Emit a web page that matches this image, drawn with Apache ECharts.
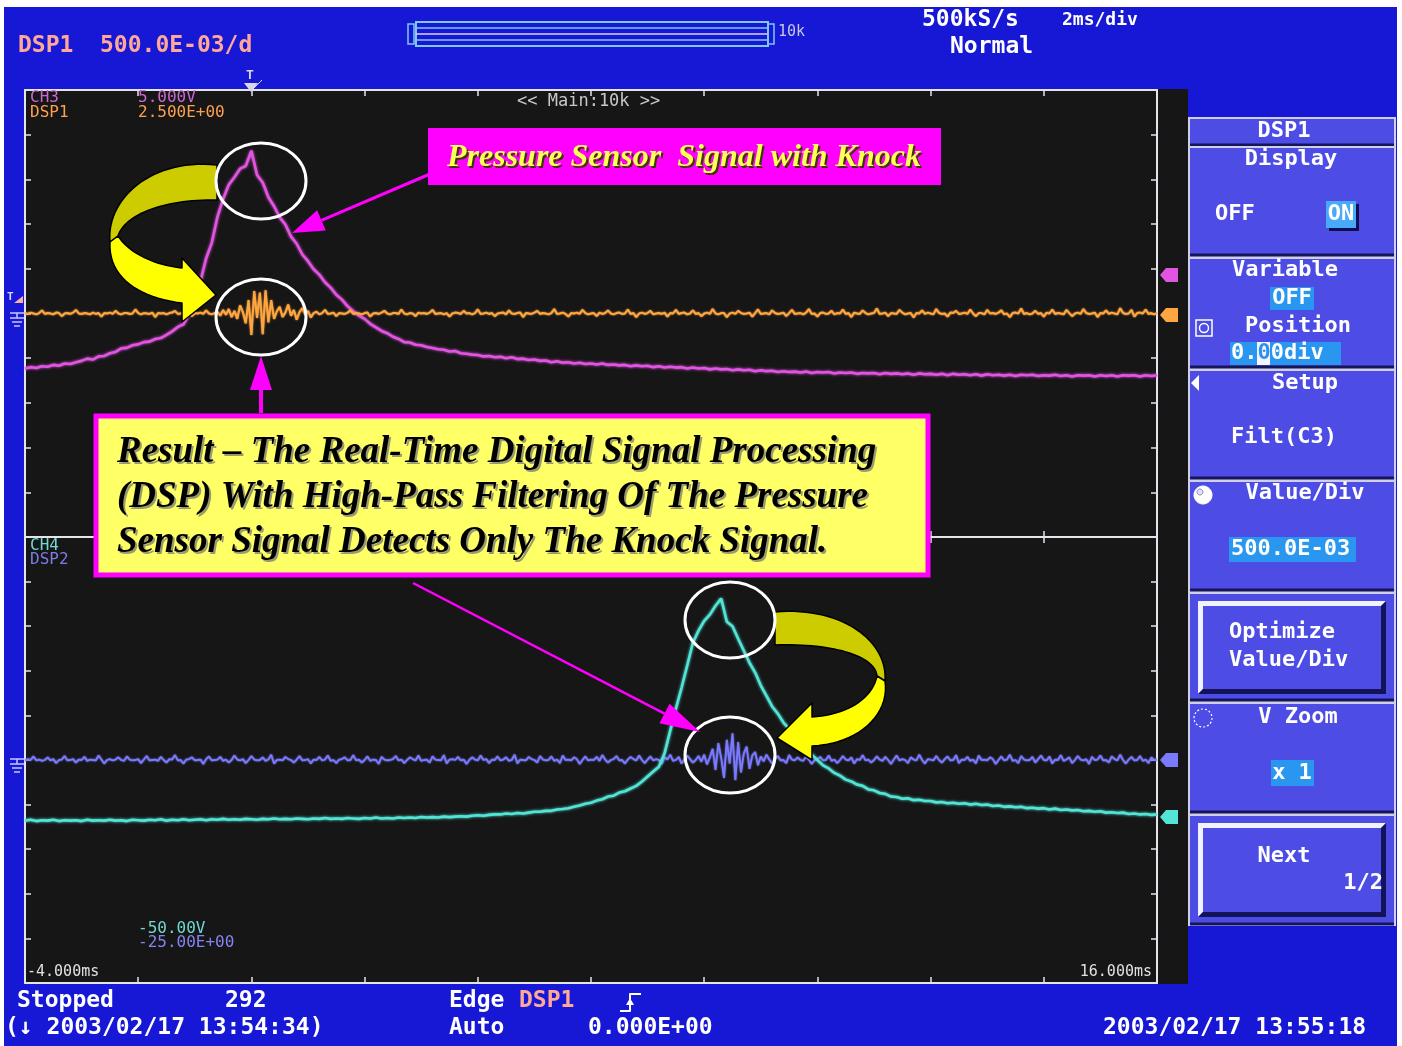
<!DOCTYPE html>
<html>
<head>
<meta charset="utf-8">
<title>DSP knock detection</title>
<script src="https://cdn.jsdelivr.net/npm/echarts@6/dist/echarts.min.js"></script>
<style>
  html, body { margin: 0; padding: 0; background: #ffffff; }
  #scope { width: 1402px; height: 1046px; }
</style>
</head>
<body>
<div id="scope"></div>
<script>
// ---- records (vertical unit: screen divisions, 0 = centre line of each window) ----
const T_START = -4;      // ms at the left edge of the screen
const T_END = 16;        // ms at the right edge
const DT_CH = 0.1;       // ms between points of CH3 / CH4
const DT_DSP = 0.05;     // ms between points of DSP1 / DSP2
const timeLabels = ['-4.000ms', '16.000ms'];

// CH3: cylinder pressure sensor (upper window)
const ch3 = [
-1.23,-1.20,-1.22,-1.18,-1.19,-1.15,-1.17,-1.12,-1.13,-1.09,
-1.06,-1.01,-1.03,-0.96,-0.95,-0.89,-0.86,-0.78,-0.77,-0.71,
-0.69,-0.64,-0.63,-0.57,-0.55,-0.48,-0.40,-0.30,-0.24,-0.02,
0.24,0.72,1.23,1.58,2.16,2.56,2.88,3.05,3.24,3.30,
3.64,3.10,2.93,2.60,2.40,2.15,1.99,1.72,1.56,1.32,
1.17,0.99,0.87,0.70,0.58,0.42,0.31,0.16,0.05,-0.05,
-0.12,-0.23,-0.31,-0.39,-0.44,-0.52,-0.57,-0.64,-0.65,-0.70,
-0.71,-0.75,-0.77,-0.80,-0.81,-0.85,-0.84,-0.89,-0.90,-0.92,
-0.93,-0.96,-0.95,-0.98,-0.97,-1.00,-0.98,-1.02,-1.01,-1.04,
-1.03,-1.06,-1.05,-1.09,-1.07,-1.10,-1.09,-1.12,-1.10,-1.13,
-1.12,-1.14,-1.12,-1.15,-1.14,-1.16,-1.15,-1.18,-1.16,-1.18,
-1.17,-1.20,-1.18,-1.21,-1.19,-1.21,-1.20,-1.23,-1.21,-1.23,
-1.22,-1.25,-1.23,-1.25,-1.24,-1.27,-1.25,-1.27,-1.26,-1.29,
-1.27,-1.29,-1.28,-1.31,-1.29,-1.31,-1.30,-1.32,-1.30,-1.33,
-1.31,-1.32,-1.31,-1.34,-1.32,-1.33,-1.32,-1.35,-1.33,-1.34,
-1.33,-1.36,-1.33,-1.35,-1.34,-1.36,-1.34,-1.37,-1.34,-1.36,
-1.35,-1.37,-1.35,-1.38,-1.35,-1.37,-1.36,-1.38,-1.36,-1.39,
-1.36,-1.38,-1.37,-1.39,-1.37,-1.40,-1.37,-1.38,-1.37,-1.40,
-1.38,-1.39,-1.37,-1.40,-1.38,-1.41,-1.38,-1.39,-1.38,-1.41,
-1.38,-1.40,-1.38,-1.41,-1.38,-1.39,-1.38,-1.41,-1.38,-1.40,
-1.38
];

// DSP1: high-pass filtered CH3 (upper window)
const dsp1 = [
0.01,-0.01,0.02,0.00,-0.02,0.01,0.07,-0.01,0.01,0.00,-0.02,0.02,0.01,-0.06,0.00,0.01,-0.01,0.02,0.08,0.00,
-0.01,0.01,0.00,-0.02,0.02,-0.01,0.01,-0.07,0.01,0.00,0.02,-0.01,0.06,0.00,-0.02,0.01,0.01,-0.01,0.00,0.09,
0.01,-0.02,0.01,0.00,-0.01,0.02,-0.08,0.01,0.00,0.01,-0.02,0.01,0.02,0.06,-0.01,0.00,0.01,-0.02,0.01,-0.06,
0.01,0.00,0.02,-0.01,0.07,0.00,-0.02,0.01,0.04,-0.05,0.08,-0.03,0.10,-0.08,0.06,-0.12,0.18,0.03,-0.22,0.30,
-0.48,0.50,-0.10,0.47,-0.46,0.52,-0.20,0.30,-0.12,0.05,0.15,-0.08,0.02,0.20,-0.05,0.08,-0.14,0.03,0.12,-0.02,
0.06,-0.09,0.01,0.04,-0.02,0.01,0.08,-0.01,0.00,0.02,-0.06,0.01,0.00,-0.01,0.02,0.07,-0.01,0.01,0.00,-0.02,
0.01,0.02,-0.07,0.00,0.01,-0.01,0.02,0.06,0.00,-0.02,0.01,0.01,-0.01,0.09,0.00,-0.02,0.01,0.00,-0.06,0.02,
0.00,0.01,-0.01,0.02,0.08,-0.01,0.00,0.01,-0.02,0.01,-0.07,0.00,0.02,0.01,-0.01,0.06,0.00,0.01,-0.02,0.01,
0.09,-0.01,0.00,0.02,-0.01,0.01,-0.06,0.00,0.01,0.02,-0.02,0.07,0.00,-0.01,0.01,0.02,-0.08,0.01,0.00,-0.01,
0.02,0.06,-0.01,0.01,0.00,-0.02,0.01,0.10,-0.01,0.00,0.02,-0.01,-0.07,0.01,0.00,0.02,-0.01,0.08,0.01,-0.02,
0.00,0.01,-0.06,0.02,-0.01,0.01,0.07,0.00,-0.02,0.01,0.02,-0.01,0.00,0.09,-0.01,0.01,-0.08,0.00,0.02,-0.01,
0.01,0.06,-0.02,0.00,0.01,-0.01,0.02,-0.07,0.01,0.00,0.08,-0.01,0.01,0.02,-0.02,0.00,0.07,-0.01,0.01,-0.06,
0.00,0.02,-0.01,0.10,0.00,-0.02,0.01,0.01,-0.08,0.00,0.02,-0.01,0.06,0.01,-0.01,0.00,0.02,-0.07,0.01,0.09,
-0.01,0.00,0.01,-0.02,0.07,0.01,-0.01,0.00,0.02,-0.06,0.01,0.08,-0.01,0.00,0.01,-0.02,0.02,0.10,-0.01,0.00,
-0.07,0.01,0.02,-0.01,0.00,0.06,-0.02,0.01,0.00,0.09,-0.01,0.01,-0.08,0.02,0.00,-0.01,0.07,0.01,-0.02,0.00,
0.01,0.11,-0.01,0.00,0.02,-0.06,0.01,0.00,-0.01,0.08,0.02,-0.02,0.00,0.01,-0.09,0.01,0.00,0.07,-0.01,0.02,
0.00,-0.02,0.10,0.01,-0.01,0.00,-0.07,0.02,0.01,0.06,-0.01,0.00,0.02,-0.01,0.09,0.00,-0.06,0.01,0.01,-0.02,
0.08,0.00,0.01,-0.01,0.02,0.07,-0.02,0.00,-0.08,0.01,0.02,0.00,0.11,-0.01,0.01,-0.02,0.00,0.06,-0.01,0.01,
-0.07,0.02,0.00,0.09,-0.01,0.01,0.00,-0.02,0.08,0.01,-0.06,0.00,0.02,-0.01,0.10,0.01,-0.01,0.00,0.02,-0.08,
0.01,0.00,0.07,-0.01,0.02,0.00,-0.02,0.12,0.01,-0.01,0.00,0.08,-0.07,0.01,0.02,0.00,0.09,-0.01,0.01,-0.02,
0.01
];

// CH4: pressure sensor (lower window)
const ch4 = [
-1.36,-1.34,-1.37,-1.35,-1.36,-1.34,-1.37,-1.35,-1.36,-1.35,
-1.37,-1.34,-1.36,-1.35,-1.36,-1.34,-1.36,-1.35,-1.37,-1.34,
-1.35,-1.36,-1.34,-1.35,-1.33,-1.36,-1.34,-1.35,-1.33,-1.35,
-1.34,-1.33,-1.35,-1.33,-1.34,-1.32,-1.34,-1.33,-1.34,-1.32,
-1.33,-1.34,-1.32,-1.33,-1.31,-1.33,-1.32,-1.33,-1.31,-1.32,
-1.33,-1.31,-1.32,-1.30,-1.32,-1.31,-1.32,-1.30,-1.31,-1.32,
-1.30,-1.31,-1.29,-1.31,-1.30,-1.31,-1.29,-1.30,-1.29,-1.30,
-1.28,-1.29,-1.28,-1.29,-1.27,-1.28,-1.27,-1.26,-1.27,-1.25,
-1.24,-1.25,-1.23,-1.22,-1.22,-1.20,-1.21,-1.19,-1.20,-1.18,
-1.16,-1.16,-1.14,-1.14,-1.11,-1.10,-1.08,-1.05,-1.02,-0.98,
-0.96,-0.91,-0.88,-0.82,-0.80,-0.73,-0.70,-0.64,-0.58,-0.48,
-0.37,-0.26,-0.15,0.15,0.66,1.15,1.62,2.12,2.63,2.90,
3.12,3.26,3.46,3.62,3.10,3.00,2.72,2.45,2.18,1.96,
1.67,1.44,1.20,1.04,0.84,0.70,0.50,0.38,0.24,0.12,
0.00,-0.12,-0.19,-0.29,-0.35,-0.44,-0.48,-0.55,-0.58,-0.66,
-0.68,-0.74,-0.76,-0.82,-0.83,-0.87,-0.86,-0.90,-0.89,-0.92,
-0.92,-0.95,-0.94,-0.97,-0.96,-0.98,-0.97,-1.00,-0.98,-1.01,
-1.00,-1.03,-1.02,-1.05,-1.04,-1.06,-1.05,-1.08,-1.07,-1.09,
-1.08,-1.11,-1.09,-1.12,-1.11,-1.13,-1.12,-1.15,-1.14,-1.16,
-1.15,-1.18,-1.17,-1.19,-1.18,-1.21,-1.20,-1.22,-1.21,-1.23,
-1.22
];

// DSP2: high-pass filtered CH4 (lower window)
const dsp2 = [
-0.01,0.02,0.00,0.08,-0.01,0.01,-0.02,0.00,0.06,-0.01,0.02,-0.07,0.00,0.01,0.09,-0.01,0.00,0.02,-0.06,0.01,
0.00,0.07,-0.02,0.01,0.00,-0.01,0.10,0.01,-0.08,0.00,0.02,-0.01,0.01,0.06,0.00,-0.02,0.08,0.01,-0.01,0.00,
0.02,-0.07,0.01,0.09,-0.01,0.00,0.01,-0.02,0.07,0.00,-0.06,0.02,0.01,0.11,-0.01,0.00,-0.08,0.01,0.02,0.06,
-0.01,0.00,0.01,-0.09,0.02,0.08,-0.01,0.00,0.01,0.07,-0.02,0.01,-0.06,0.00,0.10,0.01,-0.01,0.02,-0.07,0.00,
0.09,0.01,-0.01,0.00,0.06,-0.02,0.01,0.12,-0.08,0.00,0.01,-0.01,0.07,0.02,0.00,-0.06,0.01,0.09,-0.01,0.00,
0.02,-0.08,0.01,0.00,0.07,-0.01,0.01,0.10,-0.02,0.00,-0.07,0.01,0.02,0.06,-0.01,0.00,0.11,-0.01,0.01,-0.06,
0.00,0.08,-0.02,0.01,0.00,-0.09,0.07,0.01,-0.01,0.00,0.02,0.09,-0.01,0.01,-0.07,0.00,0.06,0.02,-0.01,0.10,
-0.02,0.00,0.01,-0.06,0.08,0.01,0.00,-0.01,0.11,-0.08,0.01,0.02,0.00,0.07,-0.01,0.01,-0.09,0.00,0.06,0.01,
-0.01,0.10,0.00,0.02,-0.07,0.01,0.00,0.08,-0.01,0.01,0.06,-0.02,0.00,0.12,-0.08,0.01,0.00,-0.01,0.07,0.02,
0.00,-0.06,0.09,0.01,-0.01,0.00,0.08,-0.02,0.01,-0.07,0.10,0.00,0.01,-0.01,0.06,0.02,-0.09,0.00,0.08,-0.01,
0.01,0.00,0.07,-0.02,0.11,0.01,-0.06,0.00,0.02,0.09,-0.01,0.00,-0.08,0.01,0.07,0.02,-0.01,0.10,0.00,-0.07,
0.01,0.08,-0.01,0.02,0.00,-0.09,0.06,0.01,0.12,-0.02,0.00,0.07,-0.08,0.01,0.10,0.02,-0.06,0.00,0.09,-0.04,
0.12,-0.10,0.06,0.25,-0.22,0.38,0.05,-0.40,0.45,-0.08,0.60,-0.45,0.40,-0.28,0.15,0.30,-0.20,0.10,0.18,-0.12,
0.08,-0.03,0.12,0.01,-0.08,0.02,0.09,-0.01,0.00,-0.07,0.11,0.01,-0.01,0.06,0.00,-0.02,0.08,0.01,-0.09,0.00,
0.02,0.07,-0.01,0.00,0.10,-0.02,0.01,-0.07,0.00,0.09,0.01,-0.01,0.06,-0.08,0.02,0.00,0.11,-0.01,0.01,-0.06,
0.00,0.08,0.01,-0.02,0.07,0.00,-0.09,0.01,0.10,-0.01,0.02,0.00,-0.07,0.06,0.01,-0.01,0.12,0.00,-0.08,0.02,
0.01,-0.01,0.09,0.00,-0.06,0.02,0.08,-0.01,0.00,0.11,-0.07,0.01,0.00,0.07,-0.02,0.01,-0.08,0.10,0.00,0.01,
-0.01,0.06,0.02,-0.09,0.00,0.08,-0.01,0.01,0.12,-0.02,0.00,-0.07,0.09,0.01,-0.01,0.00,0.07,-0.06,0.02,0.10,
0.00,-0.01,0.08,-0.08,0.01,0.00,0.11,-0.02,0.01,0.06,-0.07,0.00,0.09,0.01,-0.01,0.02,-0.09,0.07,0.00,0.01,
0.10,-0.01,0.00,-0.06,0.08,0.02,-0.01,0.12,0.00,-0.08,0.01,0.07,-0.01,0.00,0.09,-0.02,0.01,-0.07,0.06,0.00,
0.01
];

// sample index -> [time in ms, value]
const toXY = (arr, dt) => arr.map((v, i) => [+(T_START + i * dt).toFixed(3), v]);

// ---- look ----
const BLUE = '#1717d6';
const PANEL = '#4d4de6';
const HILITE = '#2996f0';
const SCREEN = '#161616';
const FRAME = '#e4e4ec';
const MONO = '"DejaVu Sans Mono", "Liberation Mono", monospace';
const SERIF = '"Liberation Serif", "DejaVu Serif", serif';
const C_CH3 = '#e254e2', C_DSP1 = '#ffa640', C_CH4 = '#52e4d6', C_DSP2 = '#7a7aff';

const el = [];
function style(o) { const s = {}; for (const k in o) if (o[k] !== undefined) s[k] = o[k]; return s; }
function R(x, y, w, h, fill, o) {
  o = o || {};
  el.push({ type: 'rect', silent: true, z: o.z != null ? o.z : 50, shape: { x: x, y: y, width: w, height: h },
    style: style({ fill: fill || 'none', stroke: o.stroke, lineWidth: o.lw }) });
}
function L(pts, color, w, o) {
  o = o || {};
  el.push({ type: 'polyline', silent: true, z: o.z != null ? o.z : 50, shape: { points: pts },
    style: style({ stroke: color, lineWidth: w || 1, fill: 'none', lineDash: o.dash, lineJoin: 'round' }) });
}
function P(pts, fill, o) {
  o = o || {};
  el.push({ type: 'polygon', silent: true, z: o.z != null ? o.z : 50, shape: { points: pts },
    style: style({ fill: fill, stroke: o.stroke, lineWidth: o.lw, lineJoin: 'round' }) });
}
function E(cx, cy, rx, ry, color, w, o) {
  o = o || {};
  el.push({ type: 'ellipse', silent: true, z: o.z != null ? o.z : 60, shape: { cx: cx, cy: cy, rx: rx, ry: ry },
    style: style({ fill: o.fill || 'none', stroke: color, lineWidth: w, lineDash: o.dash }) });
}
function TX(x, y, s, color, size, o) {
  o = o || {};
  const al = o.align || 'left';
  el.push({ type: 'text', silent: true, z: o.z != null ? o.z : 60, x: x, y: y,
    style: { text: s, fill: color, font: (o.weight || 'bold') + ' ' + size + 'px ' + (o.family || MONO),
      textAlign: al, align: al, textVerticalAlign: 'middle', verticalAlign: 'middle' } });
}
function bez(p0, p1, p2, p3, n) {
  const pts = [];
  for (let k = 0; k <= n; k++) {
    const u = k / n, a = (1 - u) ** 3, b = 3 * u * (1 - u) ** 2, c = 3 * u * u * (1 - u), d = u ** 3;
    pts.push([a * p0[0] + b * p1[0] + c * p2[0] + d * p3[0], a * p0[1] + b * p1[1] + c * p2[1] + d * p3[1]]);
  }
  return pts;
}
function arrow(tail, tip, color, w, hl, hw) {
  const dx = tail[0] - tip[0], dy = tail[1] - tip[1], d = Math.hypot(dx, dy), ux = dx / d, uy = dy / d;
  const bx = tip[0] + ux * hl, by = tip[1] + uy * hl;
  L([tail, [bx, by]], color, w, { z: 70 });
  P([tip, [bx - uy * hw, by + ux * hw], [bx + uy * hw, by - ux * hw]], color, { z: 70 });
}

// ---- screen furniture ----
// black strip holding the channel markers, right of the graticule
R(1157, 89, 31, 895, SCREEN, { z: 0 });
// channel position markers
function marker(y, color) { P([[1160, y], [1166, y - 7], [1178, y - 7], [1178, y + 7], [1166, y + 7]], color, { z: 40 }); }
marker(275, C_CH3); marker(315, C_DSP1); marker(760, C_DSP2); marker(817, C_CH4);
// ground / trigger symbols left of the graticule
function ground(y) {
  L([[10, y], [24, y]], '#c8c8ff', 1.5, { z: 40 });
  L([[17, y], [17, y + 5]], '#c8c8ff', 1.5, { z: 40 });
  L([[10, y + 5], [24, y + 5]], '#c8c8ff', 1.5, { z: 40 });
  L([[12, y + 9], [22, y + 9]], '#c8c8ff', 1.5, { z: 40 });
  L([[14, y + 13], [20, y + 13]], '#c8c8ff', 1.5, { z: 40 });
}
ground(313); ground(759);
TX(7, 297, 'T', '#d8d8ff', 11, { z: 40 });
P([[14, 303], [23, 303], [23, 296]], '#ffb0a0', { z: 40 });
// trigger position mark above the graticule
TX(246, 76, 'T', '#d8d8e8', 13, { z: 40 });
P([[244, 83], [258, 83], [251, 92]], '#d8d8e8', { z: 40 });
L([[252, 90], [262, 80]], '#d8d8e8', 1, { z: 40 });

// ---- header ----
TX(18, 46, 'DSP1', '#ffa898', 23);
TX(100, 46, '500.0E-03/d', '#ffa898', 23);
R(408, 24, 6, 20, 'none', { stroke: '#80c8f0', lw: 1.5 });
R(416, 22, 352, 24, 'none', { stroke: '#80c8f0', lw: 2 });
L([[416, 28], [768, 28]], '#80c8f0', 1.5);
L([[416, 34], [768, 34]], '#dcd4ff', 1.5);
L([[416, 40], [768, 40]], '#80c8f0', 1.5);
R(768, 24, 6, 20, 'none', { stroke: '#80c8f0', lw: 1.5 });
TX(778, 32, '10k', '#c8c8e0', 15, { weight: 'normal' });
TX(922, 20, '500kS/s', '#ffffff', 23);
TX(1062, 20, '2ms/div', '#ffffff', 18);
TX(950, 47, 'Normal', '#ffffff', 23);

// ---- graticule captions ----
TX(30, 98, 'CH3', '#c868d0', 16, { weight: 'normal' });
TX(30, 113, 'DSP1', '#ffa050', 16, { weight: 'normal' });
TX(138, 98, '5.000V', '#c868d0', 16, { weight: 'normal' });
TX(138, 113, '2.500E+00', '#ffa050', 16, { weight: 'normal' });
TX(517, 102, '<< Main:10k >>', '#c8c8c8', 17, { weight: 'normal' });
TX(30, 546, 'CH4', '#70d8d0', 16, { weight: 'normal' });
TX(30, 560, 'DSP2', '#7c7ce8', 16, { weight: 'normal' });
TX(138, 929, '-50.00V', '#70d8d0', 16, { weight: 'normal' });
TX(138, 943, '-25.00E+00', '#8484f4', 16, { weight: 'normal' });
TX(27, 972, timeLabels[0], '#e0e0e0', 15, { weight: 'normal' });
TX(1152, 972, timeLabels[1], '#e0e0e0', 15, { weight: 'normal', align: 'right' });

// ---- status line ----
TX(17, 1001, 'Stopped', '#ffffff', 23);
TX(225, 1001, '292', '#ffffff', 23);
TX(5, 1028, '(\u2193 2003/02/17 13:54:34)', '#ffffff', 23);
TX(449, 1001, 'Edge', '#ffffff', 23);
TX(519, 1001, 'DSP1', '#ffa898', 23);
L([[620, 1011], [630, 1011], [630, 994], [641, 994]], '#ffffff', 2);
P([[626, 1005], [634, 1005], [630, 998]], '#ffffff');
TX(449, 1028, 'Auto', '#ffffff', 23);
TX(588, 1028, '0.000E+00', '#ffffff', 23);
TX(1103, 1028, '2003/02/17 13:55:18', '#ffffff', 23);

// ---- soft-key menu ----
function key(y, h) {
  R(1189, y, 206, h, PANEL, { stroke: '#cfcfea', lw: 2 });
  L([[1190, y + h - 1], [1394, y + h - 1]], '#15155a', 3);
}
function button(y, h) {
  R(1198, y, 188, h, PANEL);
  P([[1198, y], [1386, y], [1381, y + 5], [1203, y + 5], [1203, y + h - 5], [1198, y + h]], '#f2f2ff');
  P([[1386, y], [1386, y + h], [1198, y + h], [1203, y + h - 5], [1381, y + h - 5], [1381, y + 5]], '#13135a');
}
key(118, 28); key(147, 109); key(258, 110); key(370, 109); key(481, 110);
key(593, 108); button(601, 93);
key(703, 110);
key(815, 110); button(823, 94);

TX(1284, 131, 'DSP1', '#ffffff', 22, { align: 'center' });
TX(1291, 159, 'Display', '#ffffff', 22, { align: 'center' });
TX(1215, 214, 'OFF', '#ffffff', 22);
R(1329, 204, 30, 27, '#101050');
R(1326, 201, 30, 27, '#48aaf8');
TX(1341, 214, 'ON', '#ffffff', 22, { align: 'center' });

TX(1285, 270, 'Variable', '#ffffff', 22, { align: 'center' });
R(1270, 287, 44, 23, HILITE);
TX(1292, 298, 'OFF', '#ffffff', 22, { align: 'center' });
R(1196, 320, 16, 16, 'none', { stroke: '#ffffff', lw: 1.5 });
E(1204, 328, 4.5, 4.5, '#ffffff', 1.5);
TX(1298, 326, 'Position', '#ffffff', 22, { align: 'center' });
R(1230, 342, 111, 23, HILITE);
R(1257, 342, 13, 23, '#f4f4ff');
TX(1231, 353, '0.00div', '#ffffff', 22);
TX(1257.5, 353, '0', '#3090f0', 22);

P([[1191, 383], [1199, 375], [1199, 391]], '#ffffff');
TX(1305, 383, 'Setup', '#ffffff', 22, { align: 'center' });
TX(1284, 437, 'Filt(C3)', '#ffffff', 22, { align: 'center' });

E(1203, 495, 9, 9, '#ffffff', 1, { fill: '#ffffff' });
E(1200, 492, 3, 3, '#9090c0', 1, { fill: '#e0e0ff' });
TX(1305, 493, 'Value/Div', '#ffffff', 22, { align: 'center' });
R(1229, 537, 127, 25, HILITE);
TX(1231, 549, '500.0E-03', '#ffffff', 22);

TX(1229, 632, 'Optimize', '#ffffff', 22);
TX(1229, 660, 'Value/Div', '#ffffff', 22);

E(1203, 718, 9, 9, '#ffffff', 1.2, { dash: [2, 2] });
TX(1298, 717, 'V Zoom', '#ffffff', 22, { align: 'center' });
R(1271, 760, 43, 26, HILITE);
TX(1292, 773, 'x 1', '#ffffff', 22, { align: 'center' });

TX(1284, 856, 'Next', '#ffffff', 22, { align: 'center' });
TX(1383, 883, '1/2', '#ffffff', 22, { align: 'right' });

// ---- annotation: curved arrows from the pressure peak to the filtered burst ----
const OLIVE = '#cccc00', YEL = '#ffff00';
P(bez([217, 165], [150, 158], [106, 200], [110, 242], 30).concat(
  bez([118, 236], [125, 214], [165, 199], [217, 200], 30)), OLIVE, { stroke: '#000', lw: 1.5, z: 55 });
P(bez([118, 236], [130, 254], [155, 265], [182, 268], 20).concat(
  [[182, 258], [216, 295], [182, 322], [182, 303]],
  bez([182, 303], [140, 298], [108, 278], [110, 242], 20)), YEL, { stroke: '#000', lw: 1.5, z: 55 });

P(bez([775, 612], [840, 606], [888, 640], [885, 681], 30).concat(
  bez([877, 676], [875, 655], [830, 643], [775, 645], 30)), OLIVE, { stroke: '#000', lw: 1.5, z: 55 });
P(bez([877, 676], [872, 700], [845, 715], [812, 717], 20).concat(
  [[812, 703], [777, 738], [812, 760], [812, 746]],
  bez([812, 746], [858, 744], [890, 715], [885, 681], 20)), YEL, { stroke: '#000', lw: 1.5, z: 55 });

// circles around peaks and bursts
E(261, 181, 45, 38, '#ffffff', 3);
E(261, 317, 45, 38, '#ffffff', 3);
E(730, 620, 45, 38, '#ffffff', 3);
E(730, 755, 45, 38, '#ffffff', 3);

// magenta pointers
arrow([430, 174], [292, 233], '#ff00ff', 3, 32, 11);
arrow([261, 413], [261, 356], '#ff00ff', 4, 34, 11);
arrow([413, 583], [700, 732], '#ff00ff', 2.5, 40, 11);

// caption boxes
R(428, 128, 513, 57, '#ff00ff', { z: 65 });
TX(449, 160, 'Pressure Sensor  Signal with Knock', '#3a3a00', 32, { family: SERIF, weight: 'italic bold', z: 66 });
TX(447, 158, 'Pressure Sensor  Signal with Knock', '#ffff55', 32, { family: SERIF, weight: 'italic bold', z: 67 });

R(96, 416, 832, 159, '#ffff66', { stroke: '#ff00ff', lw: 5, z: 65 });
const result = ['Result \u2013 The Real-Time Digital Signal Processing',
  '(DSP) With High-Pass Filtering Of The Pressure',
  'Sensor Signal Detects Only The Knock Signal.'];
result.forEach((s, k) => {
  TX(119, 454 + k * 45, s, '#9a9a70', 37, { family: SERIF, weight: 'italic bold', z: 66 });
  TX(117, 452 + k * 45, s, '#000000', 37, { family: SERIF, weight: 'italic bold', z: 67 });
});

// white page margin
R(0, 0, 1402, 7, '#ffffff', { z: 100 });
R(0, 0, 4, 1046, '#ffffff', { z: 100 });
R(1397, 0, 5, 1046, '#ffffff', { z: 100 });

// ---- axes: two stacked windows, 10 x 10 divisions each ----
function xAx(grid, pos) {
  return { type: 'value', gridIndex: grid, position: pos, min: T_START, max: T_END, interval: 2,
    axisLine: { show: true, onZero: false, lineStyle: { color: FRAME, width: 2 } },
    axisTick: { show: true, inside: true, length: 6, lineStyle: { color: FRAME, width: 1.5 } },
    axisLabel: { show: false }, splitLine: { show: false } };
}
function yAx(grid, pos) {
  return { type: 'value', gridIndex: grid, position: pos, min: -5, max: 5, interval: 1,
    axisLine: { show: true, onZero: false, lineStyle: { color: FRAME, width: 2 } },
    axisTick: { show: true, inside: true, length: 6, lineStyle: { color: FRAME, width: 1.5 } },
    axisLabel: { show: false }, splitLine: { show: false } };
}
function trace(name, data, axis, color, width, blur) {
  return { name: name, type: 'line', xAxisIndex: axis, yAxisIndex: axis, data: data, showSymbol: false,
    symbol: 'none', silent: true, clip: true, z: 3,
    lineStyle: { color: color, width: width, shadowColor: color, shadowBlur: blur } };
}

const chart = echarts.init(document.getElementById('scope'), null, { renderer: 'canvas' });
chart.setOption({
  animation: false,
  backgroundColor: BLUE,
  grid: [
    { left: 25, top: 90, width: 1132, height: 447, show: true, backgroundColor: SCREEN, borderWidth: 0 },
    { left: 25, top: 537, width: 1132, height: 446, show: true, backgroundColor: SCREEN, borderWidth: 0 }
  ],
  xAxis: [xAx(0, 'top'), xAx(0, 'bottom'), xAx(1, 'top'), xAx(1, 'bottom')],
  yAxis: [yAx(0, 'left'), yAx(0, 'right'), yAx(1, 'left'), yAx(1, 'right')],
  series: [
    trace('CH3', toXY(ch3, DT_CH), 0, C_CH3, 2.6, 3),
    trace('DSP1', toXY(dsp1, DT_DSP), 0, C_DSP1, 2, 2),
    trace('DSP2', toXY(dsp2, DT_DSP), 2, C_DSP2, 1.8, 2),
    trace('CH4', toXY(ch4, DT_CH), 2, C_CH4, 2.6, 3)
  ],
  graphic: { elements: el }
});
</script>
</body>
</html>
